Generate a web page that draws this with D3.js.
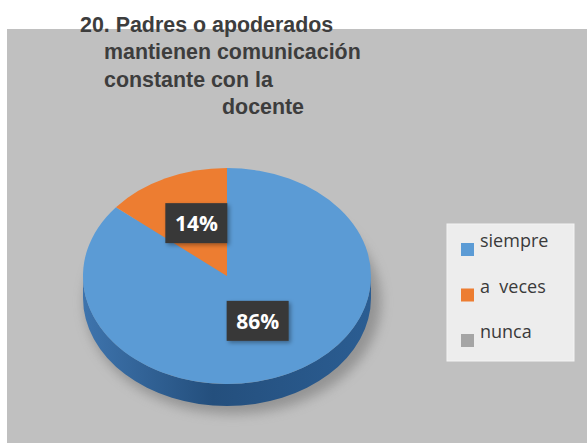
<!DOCTYPE html>
<html>
<head>
<meta charset="utf-8">
<script src="https://cdn.jsdelivr.net/npm/d3@7"></script>
<style>
    body { margin: 0; background: #ffffff; }
    svg { display: block; }
</style>
</head>
<body>
<script>

//Chart data
var categories = ["siempre", "a  veces", "nunca"];
var values = [86, 14, 0];
var labels = ["86%", "14%", ""];
var titleLines = ["20. Padres o apoderados", "mantienen comunicación", "constante con la", "docente"];

var colors = ["#5b9bd5", "#ed7d31", "#a5a5a5"];

var w = 587;
var h = 443;

//Pie geometry (ellipse because of the 3D tilt)
var cx = 227, cy = 276, rx = 144, ry = 108, depth = 22;

var svg = d3.select("body").append("svg")
    .attr("width", w)
    .attr("height", h);

var defs = svg.append("defs");

defs.append("filter")
    .attr("id", "blur")
    .attr("x", "-30%").attr("y", "-30%").attr("width", "160%").attr("height", "160%")
    .append("feGaussianBlur")
    .attr("stdDeviation", 6);

defs.append("filter")
    .attr("id", "boxShadow")
    .attr("x", "-30%").attr("y", "-30%").attr("width", "160%").attr("height", "160%")
    .append("feDropShadow")
    .attr("dx", 2).attr("dy", 2)
    .attr("stdDeviation", 2)
    .attr("flood-color", "#000")
    .attr("flood-opacity", 0.35);

var sideGrad = defs.append("linearGradient")
    .attr("id", "side")
    .attr("x1", "0").attr("x2", "1").attr("y1", "0").attr("y2", "0");
sideGrad.append("stop").attr("offset", "0%").attr("stop-color", "#3e74ad");
sideGrad.append("stop").attr("offset", "45%").attr("stop-color", "#244f7d");
sideGrad.append("stop").attr("offset", "100%").attr("stop-color", "#2b5d92");

//Chart area background
svg.append("rect")
    .attr("x", 7)
    .attr("y", 29)
    .attr("width", w - 7)
    .attr("height", h - 29)
    .attr("fill", "#c0c0c0");

//Title
svg.append("g")
    .selectAll("text")
    .data(titleLines)
    .enter()
        .append("text")
        .attr("x", function(d, i) { return [80, 104, 104, 222][i]; })
        .attr("y", function(d, i) { return 32 + i * 27.3; })
        .style("font-family", "'Liberation Sans', Arial, sans-serif")
        .style("font-weight", "bold")
        .style("font-size", "21.4px")
        .attr("fill", "#3d3d3d")
        .text(function(d) { return d; });

//Soft shadow below the pie
svg.append("ellipse")
    .attr("cx", cx + 6)
    .attr("cy", cy + depth + 4)
    .attr("rx", rx + 4)
    .attr("ry", ry + 4)
    .attr("fill", "#6f6f6f")
    .attr("opacity", 0.55)
    .attr("filter", "url(#blur)");

//Side of the pie (only the front part shows, which is all "siempre")
var side = "M" + (cx - rx) + "," + cy +
    " L" + (cx - rx) + "," + (cy + depth) +
    " A" + rx + "," + ry + " 0 0 0 " + (cx + rx) + "," + (cy + depth) +
    " L" + (cx + rx) + "," + cy +
    " A" + rx + "," + ry + " 0 0 1 " + (cx - rx) + "," + cy + " Z";

svg.append("path")
    .attr("d", side)
    .attr("fill", "url(#side)");

//Top of the pie
var pie = d3.pie().sort(null);
var arcs = pie(values);

var arc = d3.arc()
    .innerRadius(0)
    .outerRadius(1);

var labelArc = d3.arc()
    .innerRadius(0.5)
    .outerRadius(0.5);

var pieTop = svg.append("g")
    .attr("transform", "translate(" + cx + "," + cy + ") scale(" + rx + "," + ry + ")");

pieTop.selectAll(".slice")
    .data(arcs)
    .enter()
        .append("path")
        .classed("slice", true)
        .attr("d", arc)
        .attr("fill", function(d, i) { return colors[i]; });

//Data labels
var lab = svg.append("g")
    .selectAll(".lab")
    .data(arcs.filter(function(d) { return d.value > 0; }))
    .enter()
        .append("g")
        .classed("lab", true)
        .attr("transform", function(d) {
            var c = labelArc.centroid(d);
            return "translate(" + (cx + c[0] * rx) + "," + (cy + c[1] * ry - 4) + ")";
        });

lab.append("rect")
    .attr("x", -31)
    .attr("y", -20)
    .attr("width", 62)
    .attr("height", 40)
    .attr("fill", "#383838")
    .attr("filter", "url(#boxShadow)");

lab.append("text")
    .attr("text-anchor", "middle")
    .attr("y", 8)
    .style("font-family", "'Open Sans', sans-serif")
    .style("font-weight", "bold")
    .style("font-size", "21px")
    .attr("fill", "#ffffff")
    .text(function(d) { return labels[d.index]; });

//Legend
var legend = svg.append("g");

legend.append("rect")
    .attr("x", 447)
    .attr("y", 224)
    .attr("width", 127)
    .attr("height", 137)
    .attr("fill", "#ededed")
    .attr("stroke", "#f4f4f4");

var ly = d3.scalePoint()
    .domain(categories)
    .range([243, 334]);

var item = legend.selectAll(".item")
    .data(categories)
    .enter()
        .append("g")
        .classed("item", true);

item.append("rect")
    .attr("x", 461)
    .attr("y", function(d) { return ly(d); })
    .attr("width", 13)
    .attr("height", 13)
    .attr("fill", function(d, i) { return colors[i]; });

item.append("text")
    .attr("x", 480)
    .attr("y", function(d) { return ly(d) + 4; })
    .attr("xml:space", "preserve")
    .style("white-space", "pre")
    .style("font-family", "'Open Sans', sans-serif")
    .style("font-size", "18px")
    .attr("fill", "#3a3a3a")
    .text(function(d) { return d; });

</script>
</body>
</html>
